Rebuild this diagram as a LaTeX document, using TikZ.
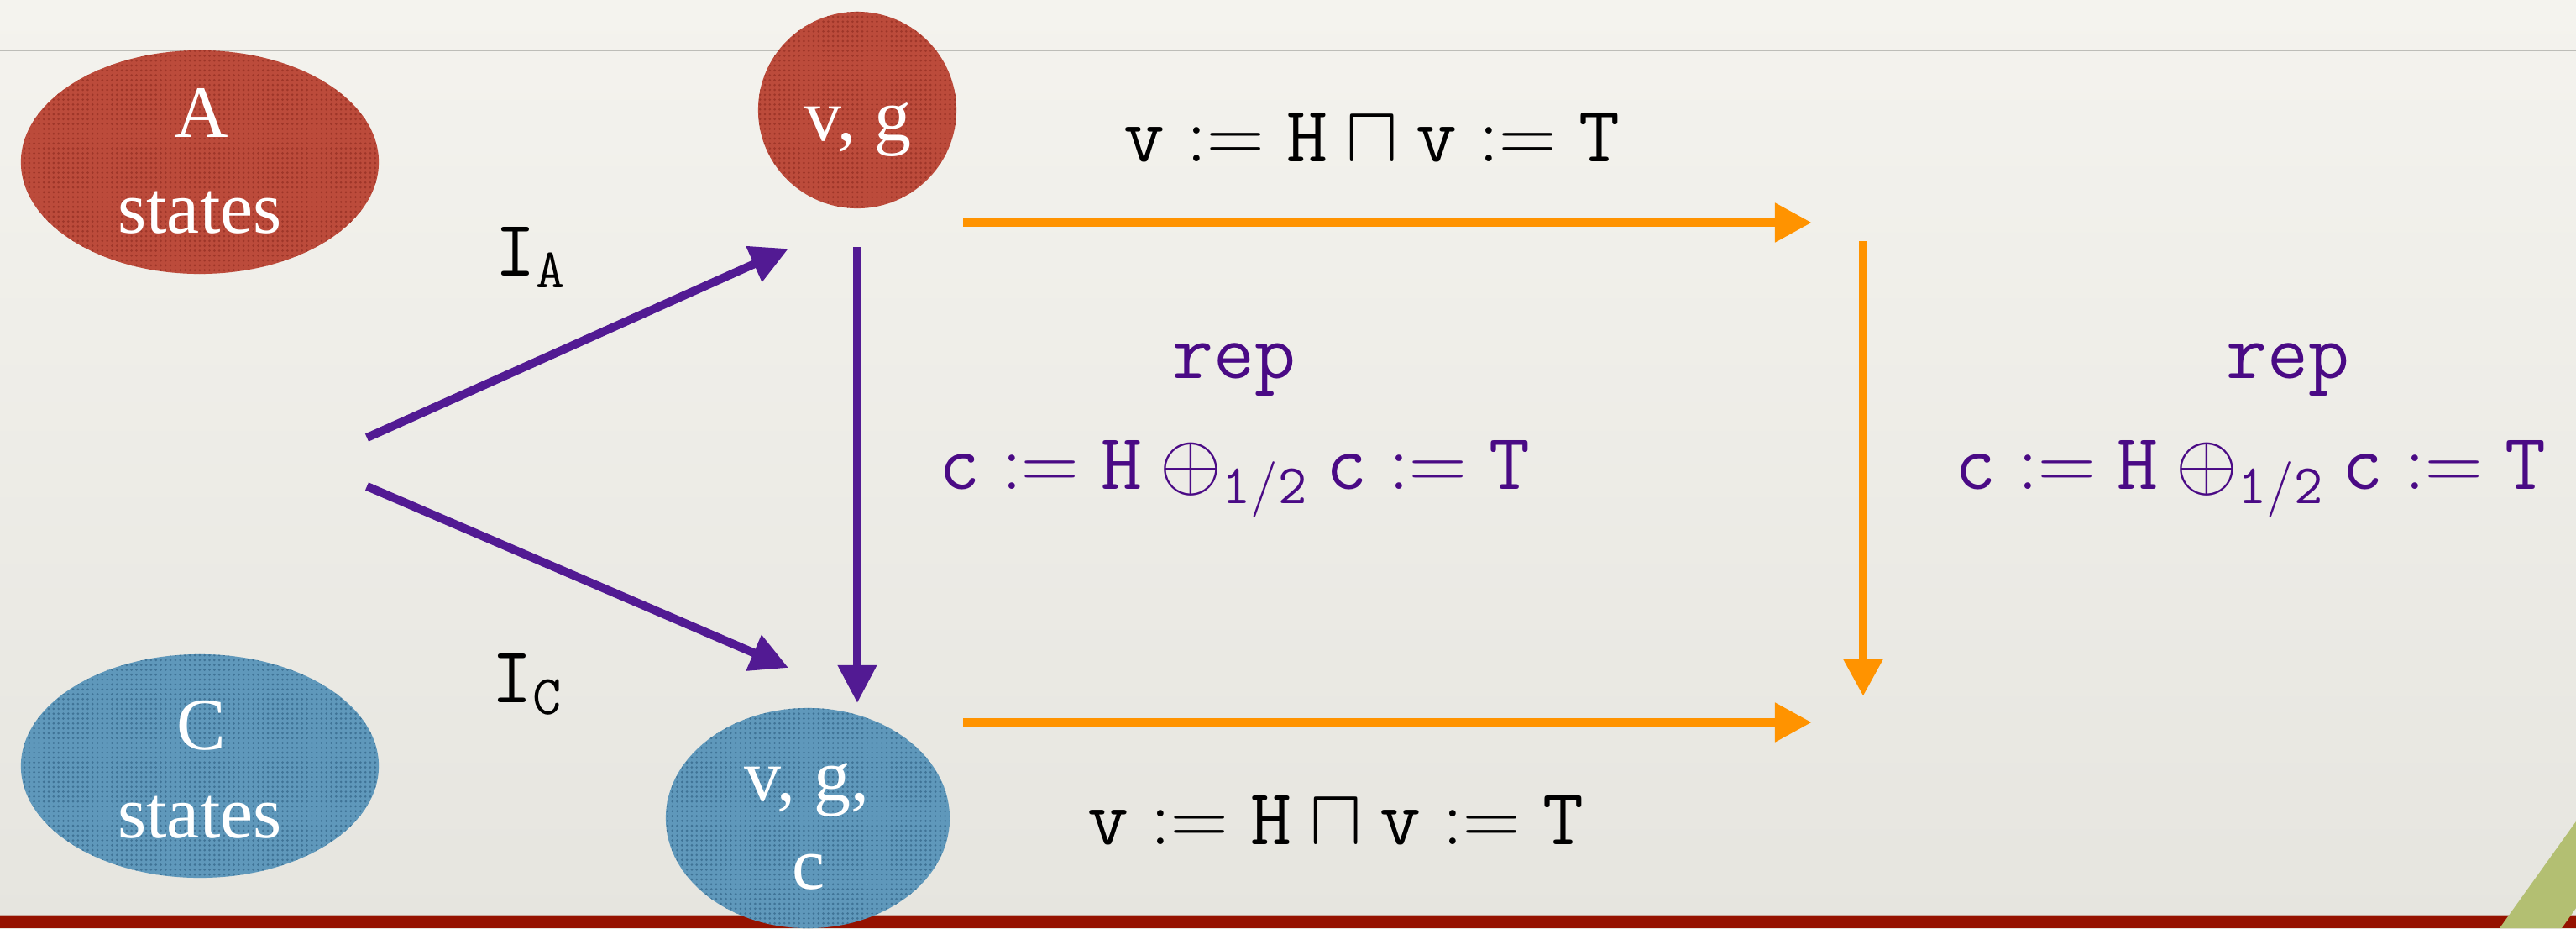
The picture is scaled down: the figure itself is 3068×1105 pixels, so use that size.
\RequirePackage{fix-cm}
\documentclass[tikz,border=0pt]{standalone}
\usepackage[no-math]{fontspec}
\newfontfamily\statefont{Liberation Serif}
\usetikzlibrary{arrows.meta,shapes.geometric,patterns.meta}
\definecolor{bgtop}{HTML}{F4F3EE}
\definecolor{bgbot}{HTML}{E6E5DF}
\definecolor{rulegray}{HTML}{BDBDB8}
\definecolor{barred}{HTML}{951200}
\definecolor{baredge}{HTML}{C9A49A}
\definecolor{leafgreen}{HTML}{B3BF72}
\definecolor{stred}{HTML}{BC4B3B}
\definecolor{stredDot}{HTML}{9E3629}
\definecolor{stblue}{HTML}{5F98BB}
\definecolor{stblueDot}{HTML}{3F7396}
\definecolor{arrpurple}{HTML}{521A93}
\definecolor{arrorange}{HTML}{FF9300}
\definecolor{txtpurple}{HTML}{4A0A85}
\begin{document}
\begin{tikzpicture}[x=0.01cm,y=-0.01cm,
  redstate/.style={ellipse,draw=none,inner sep=0pt,fill=stred,
    postaction={pattern={Dots[distance=1.65pt,radius=0.42pt]},pattern color=stredDot}},
  bluestate/.style={ellipse,draw=none,inner sep=0pt,fill=stblue,
    postaction={pattern={Dots[distance=1.65pt,radius=0.42pt]},pattern color=stblueDot}},
  sttext/.style={text=white,inner sep=0pt,anchor=base,font=\statefont\fontsize{25}{30}\selectfont},
  ttlabel/.style={inner sep=0pt,anchor=base,font=\fontsize{27}{32}\selectfont},
  purplearrow/.style={draw=arrpurple,line width=2.85pt,-{Triangle[length=0.45cm,width=0.44cm]}},
  orangearrow/.style={draw=arrorange,line width=3.1pt,-{Triangle[length=0.44cm,width=0.44cm]}}]
% background
\useasboundingbox (0,0) rectangle (3068,1105);
\shade[top color=bgtop,bottom color=bgbot] (0,0) rectangle (3068,1105);
\draw[rulegray,line width=0.7pt] (0,60) -- (3068,60);
% bottom bar and corner leaf
\fill[barred] (0,1090) rectangle (3068,1105);
\draw[baredge,line width=0.4pt] (0,1090) -- (3068,1090);
\fill[leafgreen] (2977,1105) -- (3068,978) -- (3068,1081) -- (3051,1105) -- cycle;
% state sets
\node[redstate,minimum width=4.26cm,minimum height=2.66cm] (Aset) at (238,193) {};
\node[bluestate,minimum width=4.26cm,minimum height=2.66cm] (Cset) at (238,912) {};
\node[redstate,minimum width=2.36cm,minimum height=2.34cm] (vgA) at (1021,131) {};
\node[bluestate,minimum width=3.38cm,minimum height=2.62cm] (vgC) at (962,974) {};
\node[sttext] (Atxt) at (240,163) {A};
\node[sttext] (Astates) at (238,277) {states};
\node[sttext] (Ctxt) at (240,892) {C};
\node[sttext] (Cstates) at (238,997) {states};
\node[sttext] (vgAtxt) at (1022,167) {v, g};
\node[sttext] (vgCtxt) at (961,953) {v, g,};
\node[sttext] (vgCtxtc) at (963,1058) {c};
% arrow end points
\coordinate (srcA) at (437,521);
\coordinate (srcC) at (437,579);
\coordinate (tipA) at (939,296);
\coordinate (tipC) at (939,795);
\coordinate (vtop) at (1021,294);
\coordinate (vbot) at (1021,837);
\coordinate (otl) at (1147,265);
\coordinate (otr) at (2158,265);
\coordinate (obl) at (1147,860);
\coordinate (obr) at (2158,860);
\coordinate (ovt) at (2219,287);
\coordinate (ovb) at (2219,829);
% arrows
\draw[purplearrow] (srcA) -- (tipA);
\draw[purplearrow] (srcC) -- (tipC);
\draw[purplearrow] (vtop) -- (vbot);
\draw[orangearrow] (otl) -- (otr);
\draw[orangearrow] (obl) -- (obr);
\draw[orangearrow] (ovt) -- (ovb);
% labels
\node[ttlabel] (IA) at (632,328) {$\mathtt{I}_{\mathtt{A}}$};
\node[ttlabel] (IC) at (628,836) {$\mathtt{I}_{\mathtt{C}}$};
\node[ttlabel] (topop) at (1634,192) {$\mathtt{v} := \mathtt{H} \sqcap \mathtt{v} := \mathtt{T}$};
\node[ttlabel] (botop) at (1591,1005) {$\mathtt{v} := \mathtt{H} \sqcap \mathtt{v} := \mathtt{T}$};
\node[ttlabel,text=txtpurple] (repL) at (1470,450) {\ttfamily rep};
\node[ttlabel,text=txtpurple] (coinL) at (1470,582) {$\mathtt{c} := \mathtt{H} \oplus_{\mathtt{1/2}} \mathtt{c} := \mathtt{T}$};
\node[ttlabel,text=txtpurple] (repR) at (2725,450) {\ttfamily rep};
\node[ttlabel,text=txtpurple] (coinR) at (2680,582) {$\mathtt{c} := \mathtt{H} \oplus_{\mathtt{1/2}} \mathtt{c} := \mathtt{T}$};
\end{tikzpicture}
\end{document}
